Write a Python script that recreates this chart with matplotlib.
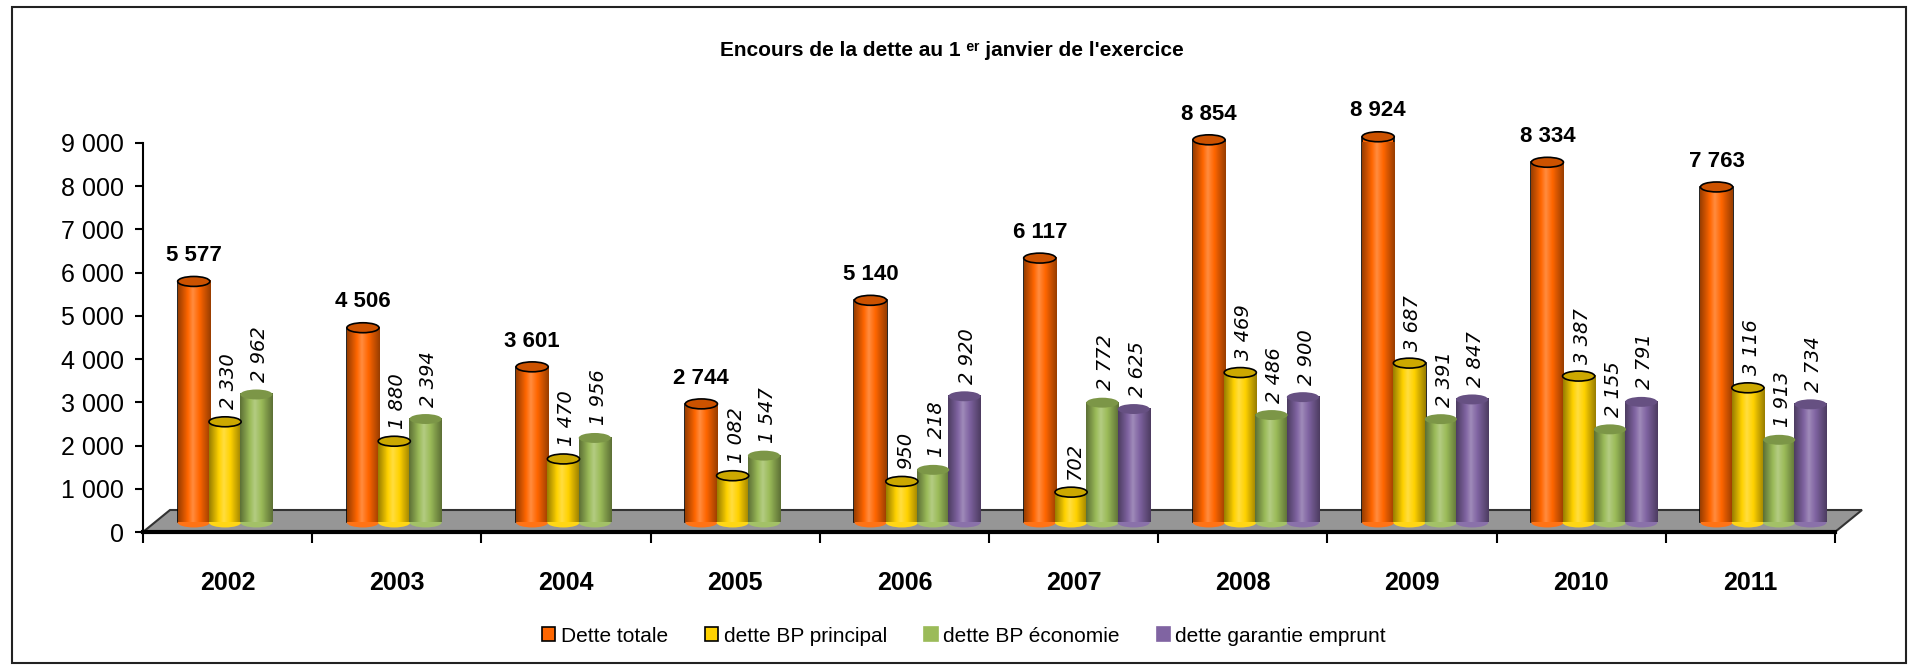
import numpy as np
import matplotlib.pyplot as plt
from matplotlib.patches import Ellipse, Polygon, Rectangle, Patch
from matplotlib.colors import LinearSegmentedColormap, to_rgb

plt.rcParams['font.family'] = ['Liberation Sans', 'DejaVu Sans']

years = ['2002', '2003', '2004', '2005', '2006', '2007', '2008', '2009', '2010', '2011']
dette_totale = [5577, 4506, 3601, 2744, 5140, 6117, 8854, 8924, 8334, 7763]
bp_principal = [2330, 1880, 1470, 1082, 950, 702, 3469, 3687, 3387, 3116]
bp_economie = [2962, 2394, 1956, 1547, 1218, 2772, 2486, 2391, 2155, 1913]
garantie = [np.nan, np.nan, np.nan, np.nan, 2920, 2625, 2900, 2847, 2791, 2734]

series = [
    ('Dette totale', dette_totale, '#FF6600', True),
    ('dette BP principal', bp_principal, '#FFD200', True),
    ('dette BP économie', bp_economie, '#9BBB59', False),
    ('dette garantie emprunt', garantie, '#8064A2', False),
]
offsets = [-0.20, -0.015, 0.17, 0.355]
width = 0.19
depth = 220  # 3D floor lift of the cylinders


def fmt(v):
    return f'{int(v):,}'.replace(',', ' ')


def cyl_cmap(c):
    r = np.array(to_rgb(c))
    dark = r * 0.6
    light = r + (1 - r) * 0.25
    return LinearSegmentedColormap.from_list('cyl', [(0, dark), (0.3, r), (0.45, light), (0.65, r), (1, dark)])


fig = plt.figure(figsize=(19.10, 6.66), dpi=100)
ax = fig.add_axes([143 / 1910, 1 - 532 / 666, (1835 - 143) / 1910, (532 - 143) / 666])

x = np.arange(len(years))
grad = np.linspace(0, 1, 64).reshape(1, -1)

for (name, vals, col, edge), off in zip(series, offsets):
    vals = np.array(vals, dtype=float)
    ok = ~np.isnan(vals)
    bars = ax.bar(x[ok] + off, vals[ok], width, bottom=depth, color=col,
                  edgecolor='black' if edge else 'none', linewidth=1.2, zorder=3, clip_on=False)
    cm = cyl_cmap(col)
    top_col = np.array(to_rgb(col)) * 0.8
    for b, v in zip(bars, vals[ok]):
        x0, w, y0, h = b.get_x(), b.get_width(), b.get_y(), b.get_height()
        im = ax.imshow(grad, cmap=cm, extent=(x0, x0 + w, y0, y0 + h), aspect='auto', zorder=3.5)
        im.set_clip_path(b)
        im.set_clip_box(None)
        ax.add_patch(Ellipse((x0 + w / 2, y0), w, 230, facecolor=cm(0.35),
                             edgecolor='none', zorder=3.4, clip_on=False))
        ax.add_patch(Ellipse((x0 + w / 2, y0 + h), w, 230, facecolor=top_col,
                             edgecolor='black' if edge else 'none', linewidth=1.2, zorder=4,
                             clip_on=False))
        if name == 'Dette totale':
            ax.annotate(fmt(v), (x0 + w / 2, y0 + h), xytext=(0, 11), textcoords='offset points',
                        ha='center', va='bottom', fontsize=16, fontweight='bold', zorder=5,
                        annotation_clip=False)
        else:
            ax.annotate(fmt(v), (x0 + w / 2 + 0.02, y0 + h), xytext=(0, 9), textcoords='offset points',
                        ha='center', va='bottom', rotation=90, fontsize=14, style='italic',
                        family='DejaVu Sans', zorder=5, annotation_clip=False)

ax.set_xlim(-0.5, len(years) - 0.5)
ax.set_ylim(0, 9000)

# floor
floor = Polygon([(0, 0), (1, 0), (1 + 27 / 1692, 22 / 389), (27 / 1692, 22 / 389)],
                closed=True, transform=ax.transAxes, facecolor='#969696',
                edgecolor='#333333', linewidth=1.5, clip_on=False, zorder=1)
ax.add_patch(floor)

yt = np.arange(0, 9001, 1000)
ax.set_yticks(yt)
ax.set_yticklabels([fmt(v) for v in yt], fontsize=18)
ax.set_xticks(x)
ax.set_xticklabels(years, fontsize=18, fontweight='bold')
ax.set_xticks(np.arange(-0.5, len(years)), minor=True)
ax.tick_params(axis='x', which='major', length=0, pad=28)
ax.tick_params(axis='x', which='minor', length=8, width=1.5, direction='out')
ax.tick_params(axis='y', length=6, width=1.5, pad=8)

for s in ['top', 'right']:
    ax.spines[s].set_visible(False)
ax.spines['bottom'].set_linewidth(3)
ax.spines['bottom'].set_zorder(2)
ax.spines['left'].set_linewidth(1.5)

fig.text(952 / 1910, 1 - 51 / 666, "Encours de la dette au 1 ᵉʳ janvier de l'exercice",
         ha='center', va='center', fontsize=15, fontweight='bold')

handles = [Patch(facecolor=c, edgecolor='black' if e else c, linewidth=1.2, label=n)
           for n, _, c, e in series]
fig.legend(handles=handles, loc='center', bbox_to_anchor=(964 / 1910, 1 - 636 / 666),
           ncol=4, frameon=False, fontsize=15, handlelength=0.63, handleheight=0.63,
           handletextpad=0.25, columnspacing=1.8)

fig.add_artist(Rectangle((12 / 1910, 3 / 666), (1906 - 12) / 1910, (659 - 3) / 666,
                         transform=fig.transFigure, fill=False, edgecolor='#222222',
                         linewidth=1.5))

fig.savefig('out.png', dpi=100)
